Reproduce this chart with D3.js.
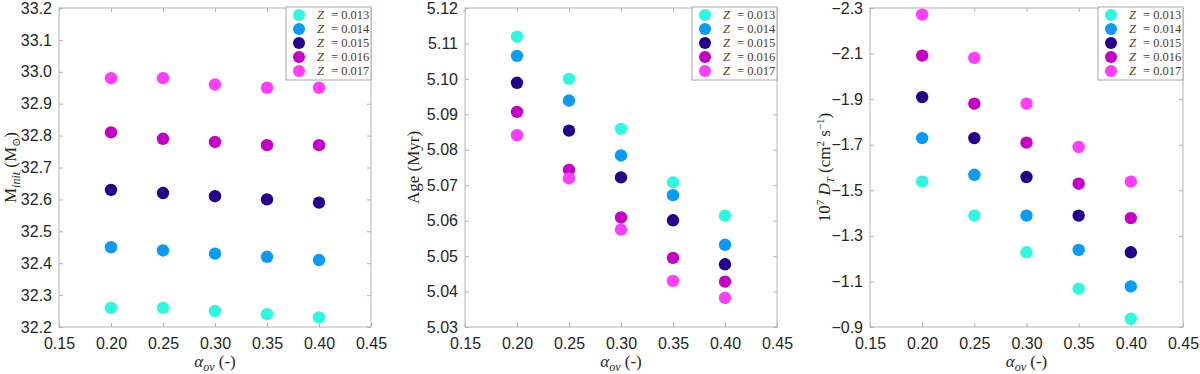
<!DOCTYPE html>
<html>
<head>
<meta charset="utf-8">
<script src="https://cdn.jsdelivr.net/npm/d3@7"></script>
<style>
  body { margin: 0; background: #fff; }
  svg { display: block; }
  .tick text { font-family: "Liberation Sans", Arial, sans-serif; font-size: 16px; fill: #262626; }
  .lab { font-family: "Liberation Serif", "DejaVu Serif", serif; font-size: 17px; fill: #262626; }
  .leg { font-family: "Liberation Serif", "DejaVu Serif", serif; font-size: 12.5px; fill: #4b3b2b; }
</style>
</head>
<body>
<svg id="chart" width="1200" height="374"></svg>
<script>
// overshoot parameter on the x axis
var alphaOv = [0.20, 0.25, 0.30, 0.35, 0.40]
var zLabels = ["0.013", "0.014", "0.015", "0.016", "0.017"]
var zColors = ["#2ef8e2", "#0a9bf7", "#25008e", "#c600c6", "#ff3dff"]
var xTicks = [0.15, 0.20, 0.25, 0.30, 0.35, 0.40, 0.45]

// initial mass, one row per Z
var massInit = [
  [32.26, 32.26, 32.25, 32.24, 32.23],
  [32.45, 32.44, 32.43, 32.42, 32.41],
  [32.63, 32.62, 32.61, 32.60, 32.59],
  [32.81, 32.79, 32.78, 32.77, 32.77],
  [32.98, 32.98, 32.96, 32.95, 32.95]
]
var massTicks = [32.2, 32.3, 32.4, 32.5, 32.6, 32.7, 32.8, 32.9, 33.0, 33.1, 33.2]

// age in Myr
var age = [
  [5.1119, 5.1000, 5.0859, 5.0708, 5.0614],
  [5.1065, 5.0939, 5.0784, 5.0672, 5.0532],
  [5.0989, 5.0854, 5.0722, 5.0601, 5.0477],
  [5.0907, 5.0743, 5.0609, 5.0495, 5.0428],
  [5.0841, 5.0719, 5.0575, 5.0430, 5.0382]
]
var ageTicks = [5.03, 5.04, 5.05, 5.06, 5.07, 5.08, 5.09, 5.10, 5.11, 5.12]

// 10^7 D_T
var diffT = [
  [-1.538, -1.389, -1.228, -1.068, -0.936],
  [-1.729, -1.568, -1.389, -1.238, -1.078],
  [-1.909, -1.729, -1.558, -1.389, -1.228],
  [-2.091, -1.880, -1.709, -1.529, -1.378],
  [-2.271, -2.081, -1.880, -1.690, -1.538]
]
var diffTicks = [-0.9, -1.1, -1.3, -1.5, -1.7, -1.9, -2.1, -2.3]

var svg = d3.select("#chart")
var top_ = 8, bottom = 327

function panel(left, right, vals, yDomain, yTicks, yFmt, labelX, yLabelFn) {
  var x = d3.scaleLinear().domain([0.15, 0.45]).range([left, right])
  var y = d3.scaleLinear().domain(yDomain).range([bottom, top_])
  var g = svg.append("g")

  // box
  g.append("rect").attr("x", left).attr("y", top_)
    .attr("width", right - left).attr("height", bottom - top_)
    .attr("fill", "none").attr("stroke", "#b4b4b4").attr("stroke-width", 1)

  var ax = function(axis, tx, ty, fmt, show) {
    var a = g.append("g").attr("transform", "translate(" + tx + "," + ty + ")")
      .call(axis.tickFormat(show ? fmt : "").tickSizeOuter(0))
    a.select(".domain").remove()
    a.selectAll(".tick line").attr("stroke", "#b4b4b4")
    return a
  }
  var xb = ax(d3.axisBottom(x).tickValues(xTicks).tickSize(-4).tickPadding(8), 0, bottom, d3.format(".2f"), true)
  xb.selectAll(".tick text").attr("dy", "0.85em")
  ax(d3.axisTop(x).tickValues(xTicks).tickSize(-4), 0, top_, null, false)
  ax(d3.axisLeft(y).tickValues(yTicks).tickSize(-4).tickPadding(7), left, 0, yFmt, true)
  ax(d3.axisRight(y).tickValues(yTicks).tickSize(-4), right, 0, null, false)
  g.selectAll(".tick text").attr("fill", "#262626")

  // dots
  vals.forEach(function(row, i) {
    g.selectAll(null).data(row).enter().append("circle")
      .attr("cx", function(d, j) { return x(alphaOv[j]) })
      .attr("cy", function(d) { return y(d) })
      .attr("r", 6.2)
      .attr("fill", zColors[i])
  })

  // x label
  var xl = g.append("text").attr("class", "lab")
    .attr("x", (left + right) / 2).attr("y", 367).attr("text-anchor", "middle")
  xl.append("tspan").attr("font-style", "italic").text("α")
  xl.append("tspan").attr("font-style", "italic").attr("font-size", "12px").attr("dy", 4).text("ov")
  xl.append("tspan").attr("dy", -4).text(" (-)")

  // y label
  var yl = g.append("text").attr("class", "lab")
    .attr("transform", "translate(" + labelX + "," + ((top_ + bottom) / 2) + ") rotate(-90)")
    .attr("text-anchor", "middle")
  yLabelFn(yl)

  // legend
  var lw = 85, lh = 73, lx = right - lw, ly = 7
  g.append("rect").attr("x", lx).attr("y", ly).attr("width", lw).attr("height", lh)
    .attr("fill", "#fff").attr("stroke", "#a8a8a8")
  zLabels.forEach(function(z, i) {
    var cy = ly + 8 + i * 14
    g.append("circle").attr("cx", lx + 13).attr("cy", cy).attr("r", 6).attr("fill", zColors[i])
    g.append("text").attr("class", "leg").attr("x", lx + 31).attr("y", cy + 4)
      .attr("font-style", "italic").text("Z")
    g.append("text").attr("class", "leg").attr("x", lx + 45).attr("y", cy + 4)
      .text("= " + z)
  })
}

panel(59, 371, massInit, [32.2, 33.2], massTicks, d3.format(".1f"), 16, function(t) {
  t.append("tspan").text("M")
  t.append("tspan").attr("font-style", "italic").attr("font-size", "12px").attr("dy", 4).text("init")
  t.append("tspan").attr("dy", -4).text(" (M")
  t.append("tspan").attr("font-size", "11px").attr("dy", 4).text("⊙")
  t.append("tspan").attr("dy", -4).text(")")
})

panel(465, 777, age, [5.03, 5.12], ageTicks, d3.format(".2f"), 419, function(t) {
  t.append("tspan").text("Age (Myr)")
})

panel(870, 1183, diffT, [-0.9, -2.3], diffTicks, d3.format(".1f"), 830, function(t) {
  t.append("tspan").text("10")
  t.append("tspan").attr("font-size", "11px").attr("dy", -6).text("7")
  t.append("tspan").attr("dy", 6).text(" ")
  t.append("tspan").attr("font-style", "italic").text("D")
  t.append("tspan").attr("font-style", "italic").attr("font-size", "11px").attr("dy", 4).text("T")
  t.append("tspan").attr("dy", -4).text(" (cm")
  t.append("tspan").attr("font-size", "11px").attr("dy", -6).text("2")
  t.append("tspan").attr("dy", 6).text(" s")
  t.append("tspan").attr("font-size", "11px").attr("dy", -6).text("−1")
  t.append("tspan").attr("dy", 6).text(")")
})
</script>
</body>
</html>
